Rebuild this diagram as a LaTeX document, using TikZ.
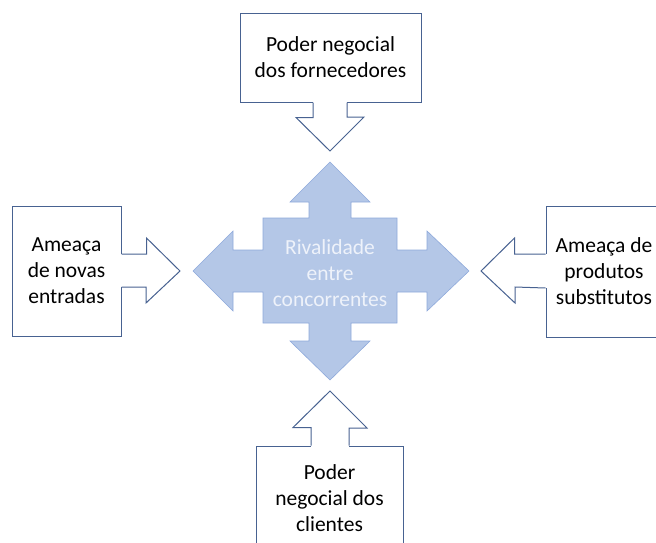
\documentclass[tikz,border=0pt]{standalone}
\usepackage{fontspec}
\setmainfont{Carlito}
\usetikzlibrary{calc}
\definecolor{rivalfill}{HTML}{B4C7E7}
\definecolor{rivaldraw}{HTML}{8EA9DB}
\definecolor{rivaltext}{HTML}{EEF2FA}
\definecolor{boxdraw}{RGB}{72,98,145}

\begin{document}
\begin{tikzpicture}[
x=1pt, y=-1pt,
forcebox/.style={rectangle, draw=boxdraw, line width=1pt, fill=white, inner sep=0pt, align=center,
  font=\fontsize{21.5}{26}\selectfont},
callout/.style={draw=boxdraw, line width=1pt, line join=miter},
]
\useasboundingbox (0,0) rectangle (656,542);
\clip (0,0) rectangle (656,542);
%Nodes
\node[forcebox, minimum width=181pt, minimum height=89pt]  (forn)  at (330.5,57.5) {Poder negocial\\dos fornecedores};
\node[forcebox, minimum width=109pt, minimum height=130pt] (entr)  at (66.5,271)   {Ameaça\\de novas\\entradas};
\node[forcebox, minimum width=116pt, minimum height=131pt] (subst) at (604,271.5)  {Ameaça de\\produtos\\substitutos};
\node[forcebox, minimum width=147pt, minimum height=104pt] (cli)   at (329.5,498)  {Poder\\negocial dos\\clientes};
%Centre
\coordinate (rival) at (330,271);
\fill[rivalfill, draw=rivaldraw, line width=0.6pt, shift={(rival)}]
  (0,-109) -- (40,-69) -- (21,-69) -- (21,-53) -- (67,-53) -- (67,-21) -- (97,-21) -- (97,-40)
  -- (139,0) -- (97,40) -- (97,21) -- (67,21) -- (67,52) -- (21,52) -- (21,70) -- (40,70)
  -- (0,109) -- (-40,70) -- (-21,70) -- (-21,52) -- (-67,52) -- (-67,21) -- (-97,21) -- (-97,40)
  -- (-137,0) -- (-97,-40) -- (-97,-21) -- (-67,-21) -- (-67,-53) -- (-21,-53) -- (-21,-69) -- (-40,-69) -- cycle;
\node[align=center, text=rivaltext, font=\fontsize{21.5}{26}\selectfont] (rivtext) at (330,273)
  {Rivalidade\\entre\\concorrentes};
%Arrows
\coordinate (fornTip)  at (330,151);
\coordinate (entrTip)  at (180,271);
\coordinate (substTip) at (481,271);
\coordinate (cliTip)   at (330,391);
\fill[white] ($(forn.south)+(-17.5,-1.5)$) rectangle ($(forn.south)+(16.5,1)$);
\draw[callout, fill=white] ($(forn.south)+(-17.5,0)$) -- ++(0,15) -- ++(-17,0) -- (fornTip)
  -- ($(fornTip)+(34,-34)$) -- ++(-17,0) -- ($(forn.south)+(16.5,0)$);
\fill[white] ($(entr.east)+(-1.5,-17)$) rectangle ($(entr.east)+(1,16)$);
\draw[callout, fill=white] ($(entr.east)+(0,-17)$) -- ++(25,0) -- ++(0,-16) -- (entrTip)
  -- ($(entrTip)+(-34,32)$) -- ++(0,-16) -- ($(entr.east)+(0,16)$);
\fill[white] ($(subst.west)+(-1,-17.5)$) rectangle ($(subst.west)+(1.5,16.5)$);
\draw[callout, fill=white] ($(subst.west)+(0,-17.5)$) -- ++(-31,0) -- ++(0,-16) -- (substTip)
  -- ($(substTip)+(34,32)$) -- ++(0,-16) -- ($(subst.west)+(0,16.5)$);
\fill[white] ($(cli.north)+(-18.5,-1)$) rectangle ($(cli.north)+(19.5,1.5)$);
\draw[callout, fill=white] ($(cli.north)+(-18.5,0)$) -- ++(0,-18) -- ++(-18,0) -- (cliTip)
  -- ($(cliTip)+(37,37)$) -- ++(-18,0) -- ($(cli.north)+(19.5,0)$);
\end{tikzpicture}
\end{document}
